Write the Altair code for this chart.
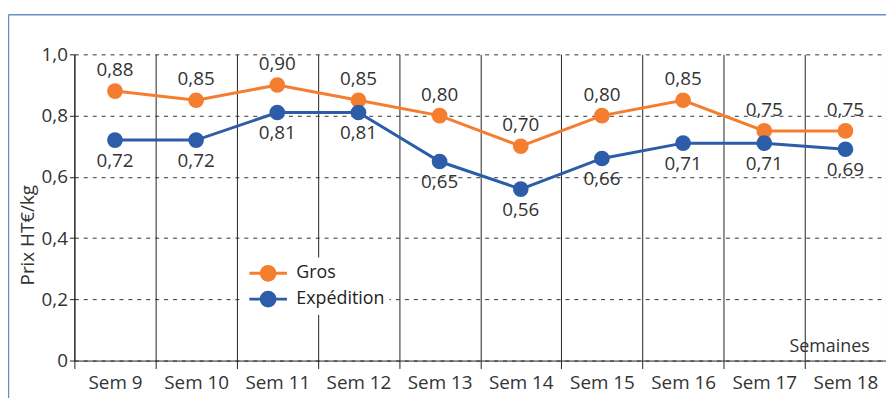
import altair as alt
import pandas as pd

semaines = ["Sem 9", "Sem 10", "Sem 11", "Sem 12", "Sem 13",
            "Sem 14", "Sem 15", "Sem 16", "Sem 17", "Sem 18"]
gros = [0.88, 0.85, 0.90, 0.85, 0.80, 0.70, 0.80, 0.85, 0.75, 0.75]
expedition = [0.72, 0.72, 0.81, 0.81, 0.65, 0.56, 0.66, 0.71, 0.71, 0.69]
series = ["Gros", "Expédition"]
colors = ["#F47D30", "#2D5DA8"]
y_ticks = [0, 0.2, 0.4, 0.6, 0.8, 1.0]

rows = []
for s, vals in zip(series, [gros, expedition]):
    for w, v in zip(semaines, vals):
        rows.append({"semaine": w, "serie": s, "valeur": v})
df = pd.DataFrame(rows)

FONT = "Open Sans"
TXT = "#333333"
FS = 19

x_enc = alt.X(
    "semaine:N", sort=semaines,
    scale=alt.Scale(paddingInner=0, paddingOuter=0),
    axis=alt.Axis(
        title="Semaines", tickBand="extent", grid=True, gridColor="#222222",
        gridWidth=1, gridDash=[], domainColor="#222222", tickColor="#222222",
        tickSize=8, labelPadding=5, labelFontSize=FS, labelFont=FONT,
        labelColor=TXT, labelAngle=0, titleX=802, titleY=-9, titleAlign="right",
        titleBaseline="alphabetic", titleFontWeight="normal", titleFontSize=18,
        titleColor=TXT, titleFont=FONT,
    ),
)
y_enc = alt.Y(
    "valeur:Q",
    scale=alt.Scale(domain=[0, 1], nice=False),
    axis=alt.Axis(
        values=y_ticks,
        labelExpr="datum.value == 0 ? '0' : replace(format(datum.value, '.1f'), '.', ',')",
        grid=True, gridDash=[4, 5], gridColor="#333333", gridWidth=1,
        domainColor="#222222", tickColor="#222222", tickSize=5, labelPadding=2,
        labelFontSize=FS, labelFont=FONT, labelColor=TXT,
        title="Prix HT€/kg", titleX=-47, titleY=182, titleAngle=-90,
        titleAlign="center", titleBaseline="middle", titleFontWeight="normal",
        titleFontSize=FS, titleColor=TXT, titleFont=FONT,
    ),
)

color_scale = alt.Scale(domain=series, range=colors)


def circ(r):
    return f"M{r},0A{r},{r},0,1,1,-{r},0A{r},{r},0,1,1,{r},0"


sym_path = "M-1,0L1,0" + circ(0.37) + circ(0.22) + circ(0.07)
legend = alt.Legend(
    orient="none", legendX=170, legendY=205, title=None,
    symbolType=sym_path, symbolSize=1444, symbolStrokeWidth=3,
    labelFontSize=18, labelFont=FONT, labelColor="#222222",
    labelOffset=8, padding=5, rowPadding=4, clipHeight=22,
    fillColor="white",
)

base = alt.Chart(df)

lines = base.mark_line(strokeWidth=3).encode(
    x=x_enc, y=y_enc,
    color=alt.Color("serie:N", scale=color_scale, legend=legend),
)
points = base.mark_point(filled=True, size=250, opacity=1, strokeWidth=0).encode(
    x=x_enc, y=y_enc,
    fill=alt.Fill("serie:N", scale=color_scale, legend=None),
)
lbl = base.transform_calculate(
    txt="replace(format(datum.valeur, '.2f'), '.', ',')"
)
labels_top = lbl.transform_filter(alt.datum.serie == "Gros").mark_text(
    dy=-21, fontSize=FS, font=FONT, color=TXT
).encode(x=x_enc, y=y_enc, text="txt:N")
labels_bot = lbl.transform_filter(alt.datum.serie == "Expédition").mark_text(
    dy=21, fontSize=FS, font=FONT, color=TXT
).encode(x=x_enc, y=y_enc, text="txt:N")

frame_df = pd.DataFrame({"k": [0]})
frame_left = alt.Chart(frame_df).mark_rule(color="#6B8DC7", strokeWidth=1.5).encode(
    x=alt.value(-66.5), y=alt.value(-40), y2=alt.value(400)
)
frame_top = alt.Chart(frame_df).mark_rule(color="#6B8DC7", strokeWidth=1.5).encode(
    x=alt.value(-66.5), x2=alt.value(830), y=alt.value(-40)
)

chart = alt.layer(
    frame_left, frame_top, lines, points, labels_top, labels_bot
).properties(
    width=819, height=309,
    autosize=alt.AutoSizeParams(type="none"),
    padding={"left": 67, "top": 45, "right": 0, "bottom": 36},
    background="white",
).configure_view(strokeWidth=0)

chart.save("out.html", embed_options={"renderer": "svg", "actions": False})
